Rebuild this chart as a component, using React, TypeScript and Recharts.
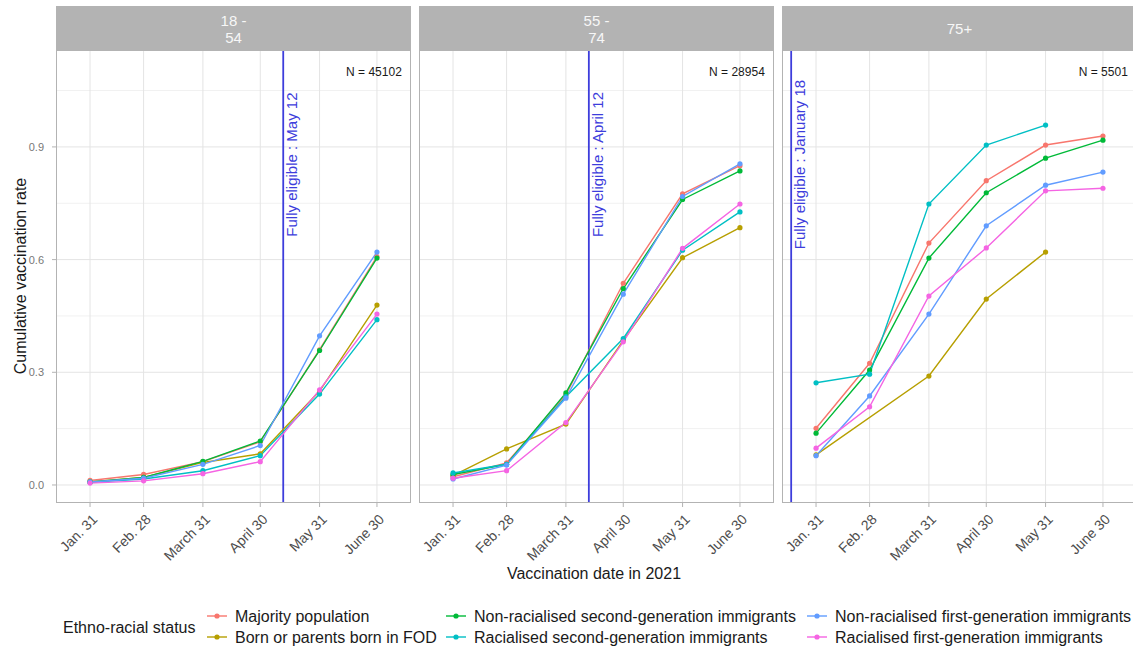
import React from "react";
import { LineChart, Line, XAxis, YAxis, ReferenceLine, ReferenceDot } from "recharts";

// x is the day of year 2021
const dates = [31, 59, 90, 120, 151, 181];
const dateLabels = ["Jan. 31", "Feb. 28", "March 31", "April 30", "May 31", "June 30"];
const yTicks = [0, 0.3, 0.6, 0.9];
const yMinorTicks = [0.15, 0.45, 0.75, 1.05];

const seriesKeys = ["maj", "fod", "nr2", "r2", "nr1", "r1"];
const seriesNames = [
  "Majority population",
  "Born or parents born in FOD",
  "Non-racialised second-generation immigrants",
  "Racialised second-generation immigrants",
  "Non-racialised first-generation immigrants",
  "Racialised first-generation immigrants",
];
const seriesColors = ["#F8766D", "#B79F00", "#00BA38", "#00BFC4", "#619CFF", "#F564E3"];

const ageGroups = [["18 -", "54"], ["55 -", "74"], ["75+"]];
const sampleSizes = ["N = 45102", "N = 28954", "N = 5501"];
const eligibleDays = [132, 102, 18];
const eligibleLabels = ["May 12", "April 12", "January 18"];

// rows follow seriesKeys
const rates18to54 = [
  [0.012, 0.028, 0.062, 0.115, 0.36, 0.608],
  [0.008, 0.02, 0.06, 0.083, 0.25, 0.479],
  [0.008, 0.02, 0.063, 0.117, 0.358, 0.604],
  [0.007, 0.016, 0.038, 0.078, 0.242, 0.44],
  [0.008, 0.018, 0.055, 0.105, 0.397, 0.62],
  [0.005, 0.011, 0.03, 0.062, 0.253, 0.455],
];
const rates55to74 = [
  [0.022, 0.059, 0.24, 0.537, 0.775, 0.85],
  [0.025, 0.096, 0.162, 0.385, 0.605, 0.685],
  [0.028, 0.055, 0.245, 0.523, 0.76, 0.836],
  [0.032, 0.055, 0.235, 0.39, 0.625, 0.727],
  [0.016, 0.053, 0.231, 0.508, 0.768, 0.855],
  [0.018, 0.038, 0.166, 0.381, 0.63, 0.748],
];
const rates75plus = [
  [0.151, 0.324, 0.644, 0.81, 0.905, 0.929],
  [0.08, null, 0.29, 0.495, 0.62, null],
  [0.138, 0.306, 0.604, 0.778, 0.87, 0.918],
  [0.272, 0.295, 0.748, 0.905, 0.958, null],
  [0.078, 0.237, 0.455, 0.69, 0.798, 0.833],
  [0.098, 0.208, 0.503, 0.631, 0.783, 0.79],
];

const panelRates = [rates18to54, rates55to74, rates75plus];

const tables = panelRates.map((rates) =>
  dates.map((day, i) => {
    const row: Record<string, number | null> = { day };
    seriesKeys.forEach((k, s) => {
      row[k] = rates[s][i];
    });
    return row;
  })
);

const FONT = '"Liberation Sans", Arial, sans-serif';
const PANEL_LEFT = [56, 419, 782];
const PANEL_W = 355;
const PLOT_TOP = 50;
const PLOT_H = 453;
const STRIP_TOP = 6;
const Y_AXIS_W = 56;
const X_AXIS_H = 60;
const X_DOMAIN: [number, number] = [13.2, 198.8];
const Y_DOMAIN: [number, number] = [-0.048, 1.158];
const GRID = "#e4e4e4";
const GRID_MINOR = "#f1f1f1";
const BORDER = "#b3b3b3";
const ELIGIBLE = "#3d3ddc";

function DateTick(props: any) {
  const { x, y, payload } = props;
  const label = dateLabels[dates.indexOf(payload.value)];
  return (
    <text
      transform={`translate(${x + 1},${y + 4}) rotate(-45)`}
      textAnchor="end"
      dy="0.72em"
      fontSize={14}
      fill="#4d4d4d"
      fontFamily={FONT}
    >
      {label}
    </text>
  );
}

function Panel({ index }: { index: number }) {
  const withAxis = index === 0;
  const width = PANEL_W + (withAxis ? Y_AXIS_W : 0);
  const left = PANEL_LEFT[index] - (withAxis ? Y_AXIS_W : 0);
  return (
    <div style={{ position: "absolute", left, top: PLOT_TOP }}>
      <LineChart
        width={width}
        height={PLOT_H + X_AXIS_H}
        data={tables[index]}
        margin={{ top: 0, right: 0, bottom: 0, left: 0 }}
      >
        <XAxis
          dataKey="day"
          type="number"
          domain={X_DOMAIN}
          ticks={dates}
          interval={0}
          allowDataOverflow
          height={X_AXIS_H}
          tick={<DateTick />}
          tickSize={4}
          tickLine={{ stroke: BORDER }}
          axisLine={false}
        />
        <YAxis
          type="number"
          domain={Y_DOMAIN}
          ticks={yTicks}
          allowDataOverflow
          hide={!withAxis}
          width={Y_AXIS_W}
          tickFormatter={(v: number) => v.toFixed(1)}
          tick={{ fill: "#777", fontSize: 11, fontFamily: FONT }}
          tickSize={4}
          tickMargin={8}
          tickLine={{ stroke: BORDER }}
          axisLine={false}
        />
        {yMinorTicks.map((v) => (
          <ReferenceLine key={`m${v}`} y={v} stroke={GRID_MINOR} strokeWidth={1} />
        ))}
        {yTicks.map((v) => (
          <ReferenceLine key={`y${v}`} y={v} stroke={GRID} strokeWidth={1} />
        ))}
        {dates.map((d) => (
          <ReferenceLine key={`x${d}`} x={d} stroke={GRID} strokeWidth={1} />
        ))}
        <ReferenceLine x={eligibleDays[index]} stroke={ELIGIBLE} strokeWidth={1.8} />
        {seriesKeys.map((k, s) => (
          <Line
            key={k}
            type="linear"
            dataKey={k}
            name={seriesNames[s]}
            stroke={seriesColors[s]}
            strokeWidth={1.4}
            connectNulls
            dot={{ r: 2.6, fill: seriesColors[s], stroke: seriesColors[s], strokeWidth: 0 }}
            activeDot={false}
            isAnimationActive={false}
          />
        ))}
        <ReferenceDot
          x={eligibleDays[index]}
          y={0.853}
          r={0}
          shape={(p: any) => (
            <text
              transform={`translate(${p.cx + 14},${p.cy}) rotate(-90)`}
              textAnchor="middle"
              fontSize={15}
              fill={ELIGIBLE}
              fontFamily={FONT}
            >
              {`Fully eligible : ${eligibleLabels[index]}`}
            </text>
          )}
        />
        <ReferenceDot
          x={194}
          y={1.1}
          r={0}
          shape={(p: any) => (
            <text x={p.cx} y={p.cy} dy="0.35em" textAnchor="end" fontSize={12} fill="#1a1a1a" fontFamily={FONT}>
              {sampleSizes[index]}
            </text>
          )}
        />
      </LineChart>
    </div>
  );
}

const legendCols = [
  { keyX: 217, textX: 235 },
  { keyX: 456, textX: 474 },
  { keyX: 817, textX: 835 },
];
const legendRowsY = [616, 637];

function Overlay() {
  return (
    <svg
      width={1133}
      height={652}
      style={{ position: "absolute", left: 0, top: 0, pointerEvents: "none" }}
      fontFamily={FONT}
    >
      {PANEL_LEFT.map((x, i) => (
        <g key={i}>
          <rect x={x + 0.5} y={PLOT_TOP + 0.5} width={PANEL_W - 1} height={PLOT_H - 1} fill="none" stroke={BORDER} strokeWidth={1} />
          <rect x={x} y={STRIP_TOP} width={PANEL_W} height={PLOT_TOP - STRIP_TOP} fill={BORDER} />
          {ageGroups[i].length === 2 ? (
            <>
              <text x={x + PANEL_W / 2} y={21} dy="0.35em" textAnchor="middle" fontSize={15} fill="#f7f7f7">
                {ageGroups[i][0]}
              </text>
              <text x={x + PANEL_W / 2} y={38} dy="0.35em" textAnchor="middle" fontSize={15} fill="#f7f7f7">
                {ageGroups[i][1]}
              </text>
            </>
          ) : (
            <text x={x + PANEL_W / 2} y={29} dy="0.35em" textAnchor="middle" fontSize={15} fill="#f7f7f7">
              {ageGroups[i][0]}
            </text>
          )}
        </g>
      ))}
      <text transform="translate(26,276) rotate(-90)" textAnchor="middle" fontSize={16} fill="#1a1a1a">
        Cumulative vaccination rate
      </text>
      <text x={594} y={573} dy="0.35em" textAnchor="middle" fontSize={16} fill="#1a1a1a">
        Vaccination date in 2021
      </text>
      <text x={63} y={627} dy="0.35em" fontSize={16} fill="#1a1a1a">
        Ethno-racial status
      </text>
      {seriesNames.map((name, s) => {
        const col = legendCols[Math.floor(s / 2)];
        const y = legendRowsY[s % 2];
        return (
          <g key={name}>
            <line x1={col.keyX - 10} x2={col.keyX + 10} y1={y} y2={y} stroke={seriesColors[s]} strokeWidth={1.4} />
            <circle cx={col.keyX} cy={y} r={2.6} fill={seriesColors[s]} />
            <text x={col.textX} y={y} dy="0.35em" fontSize={16} fill="#1a1a1a">
              {name}
            </text>
          </g>
        );
      })}
    </svg>
  );
}

export default function App() {
  return (
    <div
      style={{
        position: "fixed",
        left: 0,
        top: 0,
        width: 1133,
        height: 652,
        overflow: "hidden",
        background: "#fff",
        fontFamily: FONT,
      }}
    >
      {[0, 1, 2].map((i) => (
        <Panel key={i} index={i} />
      ))}
      <Overlay />
    </div>
  );
}
